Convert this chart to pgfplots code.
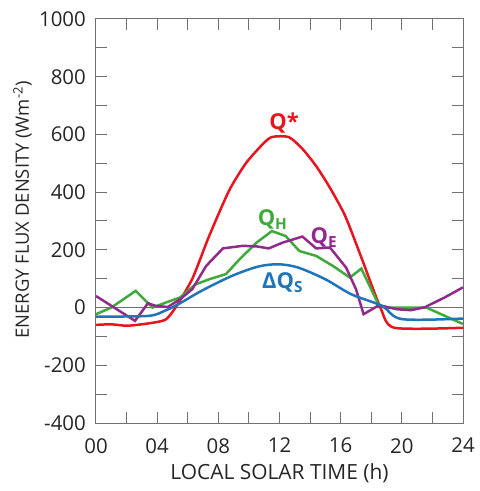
\documentclass[border=0pt]{standalone}
\usepackage{fontspec}
\setmainfont{Open Sans}
\usepackage{pgfplots}
\pgfplotsset{compat=1.18}
\definecolor{qred}{HTML}{E8141E}
\definecolor{qgreen}{HTML}{3FAA3B}
\definecolor{qpurple}{HTML}{922A8E}
\definecolor{qblue}{HTML}{1F74BA}
\definecolor{framec}{HTML}{707070}
\begin{document}
\begin{tikzpicture}
\begin{axis}[
 scale only axis, width=367bp, height=404bp,
 xmin=0, xmax=24, ymin=-400, ymax=1000,
 xtick={0,4,...,24}, xticklabels={00,04,08,12,16,20,24},
 minor x tick num=1,
 ytick={-400,-200,...,1000}, minor y tick num=1,
 tick align=inside, major tick length=11bp, minor tick length=11bp,
 axis line style={framec, line width=1bp},
 every tick/.style={framec, line width=1bp},
 ticklabel style={font=\fontsize{20.5}{24}\selectfont, text=black!85, inner sep=0pt},
 yticklabel style={anchor=east, xshift=-10bp},
 xticklabel style={anchor=north, yshift=-15bp},
 /pgf/number format/assume math mode=true,
 /pgf/number format/1000 sep={},
 xlabel={LOCAL SOLAR TIME (h)},
 ylabel={ENERGY FLUX DENSITY (Wm\textsuperscript{-2})},
 xlabel style={font=\fontsize{21}{25}\selectfont, text=black!85, at={(axis description cs:0.5,0)}, anchor=north, inner sep=0pt, yshift=-40bp},
 ylabel style={font=\fontsize{18.5}{22}\selectfont, text=black!85, at={(axis description cs:0,0.527)}, anchor=south, inner sep=0pt, yshift=64bp},
]
\addplot[framec, line width=1.2bp] coordinates {(0,0) (24,0)};
\addplot[qred, line width=2.5bp, smooth, tension=0.4] coordinates {
(0,-60)(1,-58)(2,-63)(3,-58)(4,-50)(4.6,-40)(5.2,0)(6.3,100)(7.4,248)(8.7,405)(9.8,500)(10.9,566)(11.5,591)(12.6,591)(13.5,550)(14.4,490)(15.3,415)(16.3,317)(17.4,167)(18.6,0)(19.5,-70)(24,-70)};
\addplot[qgreen, line width=2.5bp] coordinates {
(0,-23)(1,0)(2.6,58)(3.7,0)(4.6,18)(5.5,35)(6.5,80)(7.4,98)(8.5,116)(9.4,168)(10.5,225)(11.5,265)(12.4,248)(13.3,196)(14.4,179)(15.5,144)(16.6,104)(17.35,135)(18.5,8)(19.1,0)(21.6,0)(24,-57)};
\addplot[qpurple, line width=2.5bp] coordinates {
(0,40)(2.55,-46)(3.4,15)(3.9,6)(4.7,2)(5.5,29)(6.3,64)(7.2,144)(8.3,205)(9.6,214)(10.5,212)(11.3,205)(12.2,225)(13.5,246)(14.4,205)(15.3,208)(16.35,139)(17,64)(17.5,-23)(18.5,8)(19.7,-6)(20.6,-9)(21.5,1)(22.8,35)(24,70)};
\addplot[qblue, line width=2.5bp, smooth, tension=0.5] coordinates {
(0,-31)(3.4,-29)(4.5,-11)(5.4,12)(6.9,58)(8.9,110)(10.6,142)(11.9,150)(13.2,139)(15,98)(16.7,46)(18.7,6)(20,-40)(24,-38)};
\node[text=qred, font=\fontsize{22}{26}\selectfont\bfseries] at (axis cs:12.3,640) {Q*};
\node[text=qgreen, font=\fontsize{22}{26}\selectfont\bfseries] at (axis cs:11.55,306) {Q\textsubscript{H}};
\node[text=qpurple, font=\fontsize{22}{26}\selectfont\bfseries] at (axis cs:14.9,244) {Q\textsubscript{E}};
\node[text=qblue, font=\fontsize{22}{26}\selectfont\bfseries] at (axis cs:12.2,88) {ΔQ\textsubscript{S}};
\end{axis}
\path (-96bp,-68bp) rectangle (384bp,423bp);
\end{tikzpicture}
\end{document}
